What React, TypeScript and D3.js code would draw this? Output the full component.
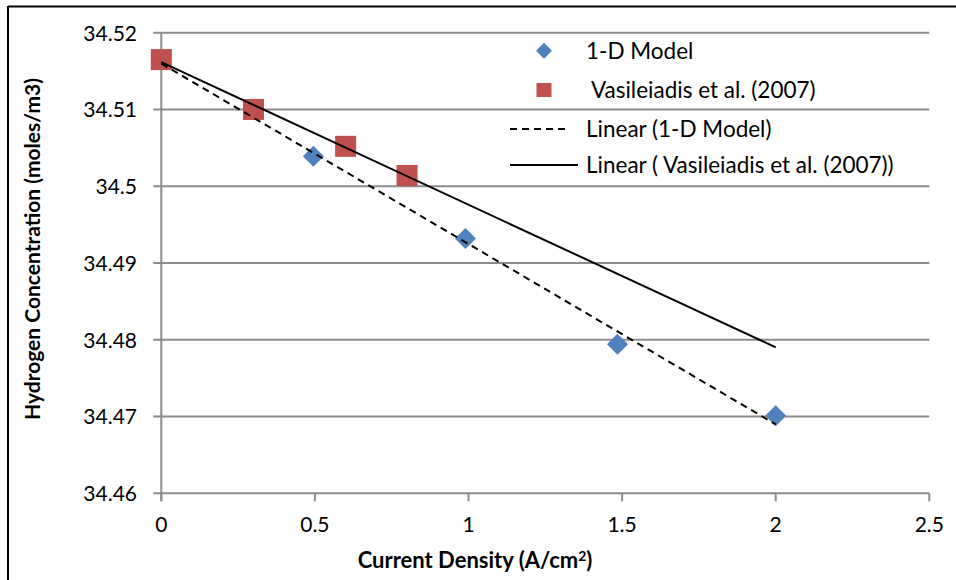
import React from "react";
import * as d3 from "d3";

// Current density (A/cm²) and hydrogen concentration (moles/m3)
const modelX = [0, 0.495, 0.99, 1.485, 2.0];
const modelY = [34.5165, 34.5039, 34.4932, 34.4794, 34.4701];
const expX = [0, 0.3, 0.6, 0.8];
const expY = [34.5165, 34.51, 34.5052, 34.5014];

const xTicks = [0, 0.5, 1, 1.5, 2, 2.5];
const yTicks = [34.46, 34.47, 34.48, 34.49, 34.5, 34.51, 34.52];
const yTickLabels = ["34.46", "34.47", "34.48", "34.49", "34.5", "34.51", "34.52"];
const xTickLabels = ["0", "0.5", "1", "1.5", "2", "2.5"];

const seriesNames = ["1-D Model", " Vasileiadis et al. (2007)", "Linear (1-D Model)", "Linear ( Vasileiadis et al. (2007))"];

const W = 956;
const H = 580;
const FONT = "Lato, 'Open Sans', sans-serif";
const GRID = "#8c8c8c";
const BLUE = "#4F81BD";
const RED = "#C0504D";

function linearFit(xs: number[], ys: number[]) {
  const mx = d3.mean(xs)!;
  const my = d3.mean(ys)!;
  let sxy = 0;
  let sxx = 0;
  xs.forEach((x, i) => {
    sxy += (x - mx) * (ys[i] - my);
    sxx += (x - mx) * (x - mx);
  });
  const slope = sxy / sxx;
  const intercept = my - slope * mx;
  return (x: number) => intercept + slope * x;
}

const diamondPath = (r: number) => `M0,${-r}L${r},0L0,${r}L${-r},0Z`;

export default function App() {
  const left = 161.3;
  const right = 929.3;
  const top = 32.7;
  const bottom = 493.3;

  const x = d3.scaleLinear().domain([0, 2.5]).range([left, right]);
  const y = d3.scaleLinear().domain([34.46, 34.52]).range([bottom, top]);

  const fitModel = linearFit(modelX, modelY);
  const fitExp = linearFit(expX, expY);
  const trendX = [0, 2];
  const modelPath = d3
    .line<number>()
    .x((d) => x(d))
    .y((d) => y(fitModel(d)))(trendX) as string;
  const expPath = d3
    .line<number>()
    .x((d) => x(d))
    .y((d) => y(fitExp(d)))(trendX) as string;

  const legX = 544;
  const legTextX = 586;
  const legY = [50.7, 90, 129, 165];

  return (
    <div style={{ position: "absolute", left: 0, top: 0 }}>
      <svg width={W} height={H} style={{ display: "block", background: "#fff" }} fontFamily={FONT}>
        <rect x={0} y={0} width={W} height={H} fill="#fff" />
        {/* chart frame */}
        <line x1={8} y1={6.5} x2={W} y2={6.5} stroke="#000" strokeWidth={2} />
        <line x1={8} y1={6} x2={8} y2={H} stroke="#000" strokeWidth={2} />

        {/* horizontal gridlines */}
        {yTicks.map((t) => (
          <line key={"g" + t} x1={left - 8} x2={right} y1={y(t)} y2={y(t)} stroke={GRID} strokeWidth={2} />
        ))}
        {/* y axis */}
        <line x1={left} x2={left} y1={top} y2={bottom + 8} stroke={GRID} strokeWidth={2} />
        {/* x ticks */}
        {xTicks.map((t) => (
          <line key={"xt" + t} x1={x(t)} x2={x(t)} y1={bottom} y2={bottom + 8} stroke={GRID} strokeWidth={2} />
        ))}

        {/* tick labels */}
        {yTicks.map((t, i) => (
          <text key={"yl" + t} x={137} y={y(t) + 7.8} textAnchor="end" fontSize={21} fill="#000">
            {yTickLabels[i]}
          </text>
        ))}
        {xTicks.map((t, i) => (
          <text key={"xl" + t} x={x(t)} y={532} textAnchor="middle" fontSize={21} fill="#000">
            {xTickLabels[i]}
          </text>
        ))}

        {/* axis titles */}
        <text x={475} y={568} textAnchor="middle" fontSize={22} fontWeight="bold" fill="#000">
          Current Density (A/cm<tspan dy={-7} fontSize={14}>2</tspan><tspan dy={7}>)</tspan>
        </text>
        <text
          transform={`translate(40,249) rotate(-90)`}
          textAnchor="middle"
          fontSize={21}
          fontWeight="bold"
          fill="#000"
        >
          Hydrogen Concentration (moles/m3)
        </text>

        {/* data markers */}
        {modelX.map((d, i) => (
          <path key={"m" + i} d={diamondPath(10.5)} transform={`translate(${x(d)},${y(modelY[i])})`} fill={BLUE} />
        ))}
        {expX.map((d, i) => (
          <rect key={"e" + i} x={x(d) - 10.5} y={y(expY[i]) - 10.5} width={21} height={21} fill={RED} />
        ))}

        {/* linear trendlines */}
        <path d={modelPath} fill="none" stroke="#000" strokeWidth={2} strokeDasharray="7,5" />
        <path d={expPath} fill="none" stroke="#000" strokeWidth={2} />

        {/* legend */}
        <path d={diamondPath(8)} transform={`translate(${legX},${legY[0]})`} fill={BLUE} />
        <rect x={legX - 7.5} y={legY[1] - 7} width={15} height={14} fill={RED} />
        <line x1={510} x2={570} y1={legY[2]} y2={legY[2]} stroke="#000" strokeWidth={2} strokeDasharray="7,5" />
        <line x1={510} x2={578} y1={legY[3]} y2={legY[3]} stroke="#000" strokeWidth={2} />
        {seriesNames.map((s, i) => (
          <text key={"lg" + i} x={legTextX} y={legY[i] + 8} fontSize={22.5} fill="#000" style={{ whiteSpace: "pre" }}>
            {s}
          </text>
        ))}
      </svg>
    </div>
  );
}
